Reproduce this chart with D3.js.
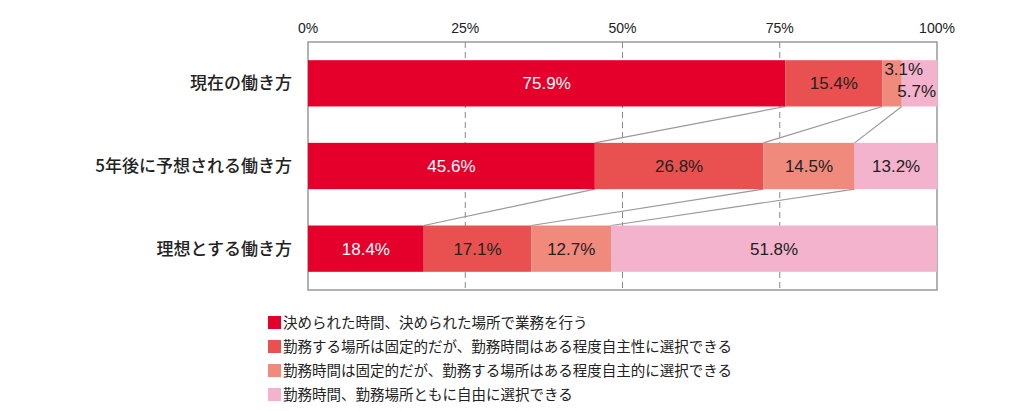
<!DOCTYPE html><html><head><meta charset="utf-8"><script src="https://d3js.org/d3.v7.min.js"></script>
<style>body{margin:0;background:#fff}</style></head><body><svg width="1030" height="411"></svg><script>
const categories=["現在の働き方","5年後に予想される働き方","理想とする働き方"];
const seriesNames=["決められた時間、決められた場所で業務を行う","勤務する場所は固定的だが、勤務時間はある程度自主性に選択できる","勤務時間は固定的だが、勤務する場所はある程度自主的に選択できる","勤務時間、勤務場所ともに自由に選択できる"];
const values=[[75.9,15.4,3.1,5.7],[45.6,26.8,14.5,13.2],[18.4,17.1,12.7,51.8]];
const colors=["#e4002b","#e8514f","#ef8a7d","#f3b3cc"];
const textColors=["#fff","#222","#222","#222"];
const ticks=[0,25,50,75,100];
const svg=d3.select("svg");
const x=d3.scaleLinear().domain([0,100]).range([308,937]);
const y=d3.scaleBand().domain(categories).range([42,290]).paddingInner(0.44).paddingOuter(0.22);
const font="'Liberation Sans',Arial,sans-serif", jp="'Noto Sans CJK JP',sans-serif";
// grid
svg.selectAll(".g").data([25,50,75]).enter().append("line").attr("x1",d=>x(d)).attr("x2",d=>x(d)).attr("y1",42).attr("y2",290).attr("stroke","#888").attr("stroke-dasharray","6,4");
svg.append("rect").attr("x",x(0)).attr("y",42).attr("width",x(100)-x(0)).attr("height",248).attr("fill","none").attr("stroke","#999").attr("stroke-width",1.5);
svg.selectAll(".t").data(ticks).enter().append("text").attr("x",d=>x(d)).attr("y",33).attr("text-anchor","middle").attr("font-family",font).attr("font-size",14).attr("fill","#222").text(d=>d+"%");
const stacks=values.map(v=>{let c=0;return v.map(d=>{const s=c;c+=d;return [s,c];});});
// connectors
for(let i=0;i<2;i++){for(let j=0;j<3;j++){svg.append("line").attr("x1",x(stacks[i][j][1])).attr("y1",y(categories[i])+y.bandwidth()).attr("x2",x(stacks[i+1][j][1])).attr("y2",y(categories[i+1])).attr("stroke","#999").attr("stroke-width",1.2);}}
categories.forEach((c,i)=>{
 stacks[i].forEach((s,j)=>{
  svg.append("rect").attr("x",x(s[0])).attr("y",y(c)).attr("width",x(s[1])-x(s[0])).attr("height",y.bandwidth()).attr("fill",colors[j]);
 });
 stacks[i].forEach((s,j)=>{
  let tx=(x(s[0])+x(s[1]))/2, ty=y(c)+y.bandwidth()/2+6, anchor="middle";
  if(i===0&&j===2){tx=x(s[1])+2;ty=y(c)+15;}
  if(i===0&&j===3){tx=x(100)-1;ty=y(c)+y.bandwidth()-9;anchor="end";}
  svg.append("text").attr("x",tx).attr("y",ty).attr("text-anchor",anchor).attr("font-family",font).attr("font-size",17).attr("fill",textColors[j]).text(values[i][j].toFixed(1)+"%");
 });
 svg.append("text").attr("x",292).attr("y",y(c)+y.bandwidth()/2+6).attr("text-anchor","end").attr("font-family",jp).attr("font-size",17).attr("font-weight",500).attr("fill","#222").text(c);
});
seriesNames.forEach((n,i)=>{
 const yy=323+i*24;
 svg.append("rect").attr("x",268).attr("y",yy-7).attr("width",13).attr("height",13).attr("fill",colors[i]);
 svg.append("text").attr("x",283).attr("y",yy+5).attr("font-family",jp).attr("font-size",14.5).attr("fill","#222").text(n);
});
</script></body></html>
